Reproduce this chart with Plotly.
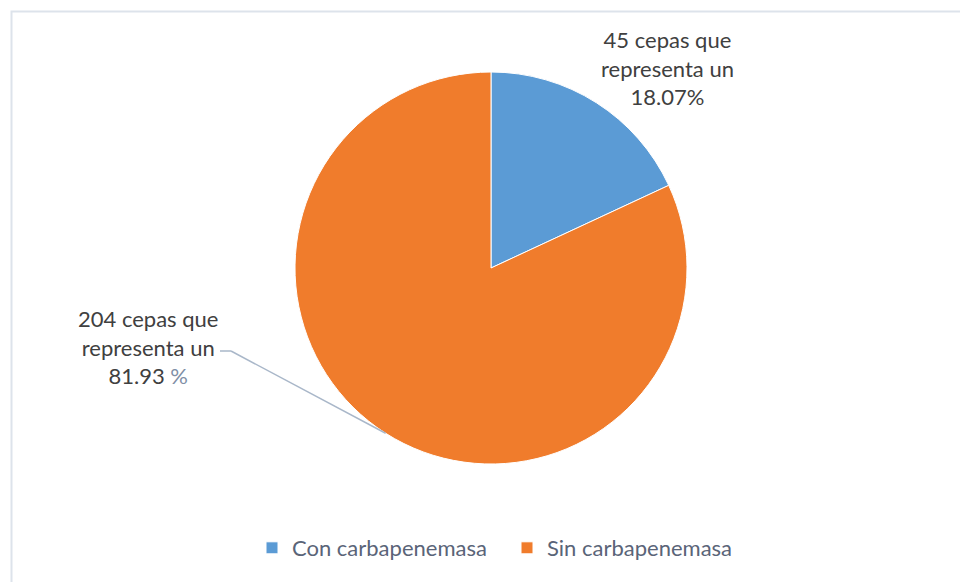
import math
import plotly.graph_objects as go

categories = ["Con carbapenemasa", "Sin carbapenemasa"]
counts = [45, 204]
percent_labels = ["18.07%", "81.93 %"]
colors = ["#5B9BD5", "#F07C2C"]

W, H = 960, 582
cx, cy, r = 491, 268, 196

def px(x):
    return x / W

def py(y):
    return 1 - y / H

fig = go.Figure()
fig.add_trace(go.Pie(
    labels=categories,
    values=counts,
    sort=False,
    direction="clockwise",
    rotation=0,
    textinfo="none",
    hoverinfo="label+value+percent",
    marker=dict(colors=colors, line=dict(color="white", width=1)),
    domain=dict(x=[px(cx - r), px(cx + r)], y=[py(cy + r), py(cy - r)]),
))

# slice midpoint angles (clockwise from 12 o'clock), derived from data
total = sum(counts)
mids = []
acc = 0
for v in counts:
    mids.append((acc + v / 2) / total * 2 * math.pi)
    acc += v

label_font = dict(family="Lato, 'Open Sans', sans-serif", size=22, color="#404040")

fig.add_annotation(
    x=px(667), y=py(68), xref="paper", yref="paper",
    xanchor="center", yanchor="middle",
    text=f"{counts[0]} cepas que<br>representa un<br>{percent_labels[0]}",
    showarrow=False, font=label_font, align="center",
)
fig.add_annotation(
    x=px(148), y=py(347), xref="paper", yref="paper",
    xanchor="center", yanchor="middle",
    text=f"{counts[1]} cepas que<br>representa un<br>81.93 <span style='color:#7F8FA6'>%</span>",
    showarrow=False, font=label_font, align="center",
)

# leader line to slice midpoint of second slice
a = mids[1]
ex = cx + r * math.sin(a)
ey = cy - r * math.cos(a)
line_style = dict(color="#A9B7C9", width=1.5)
fig.add_shape(type="line", xref="paper", yref="paper",
              x0=px(220), y0=py(351), x1=px(231), y1=py(351), line=line_style)
fig.add_shape(type="line", xref="paper", yref="paper",
              x0=px(231), y0=py(351), x1=px(ex), y1=py(ey), line=line_style)

# chart border (only left and top visible)
fig.add_shape(type="rect", xref="paper", yref="paper",
              x0=px(11.5), y0=-0.1, x1=1.1, y1=py(11.5),
              line=dict(color="#DDE3EB", width=2))

fig.update_layout(
    width=W, height=H,
    margin=dict(l=0, r=0, t=0, b=0),
    paper_bgcolor="white",
    plot_bgcolor="white",
    showlegend=True,
    legend=dict(
        orientation="h",
        x=px(252), xanchor="left",
        y=py(548), yanchor="middle",
        font=dict(family="Lato, 'Open Sans', sans-serif", size=22, color="#5A6478"),
        itemwidth=30,
        entrywidth=210,
        entrywidthmode="pixels",
        tracegroupgap=0,
        traceorder="normal",
    ),
)

fig.write_html("out.html", post_script="document.body.style.margin='0';",
               config={"displayModeBar": False})
